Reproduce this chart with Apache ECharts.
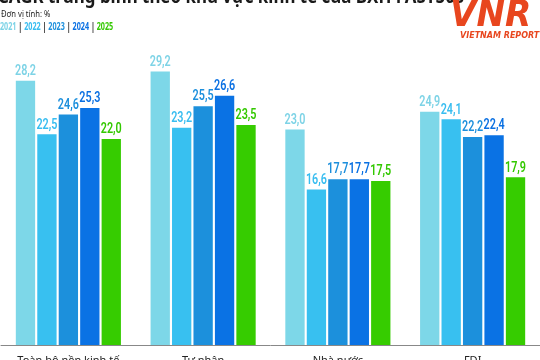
<!DOCTYPE html>
<html><head><meta charset="utf-8">
<script src="https://cdn.jsdelivr.net/npm/echarts@6/dist/echarts.min.js"></script>
<style>html,body{margin:0;padding:0;background:#fff}#c{width:540px;height:360px}</style>
</head><body><div id="c"></div>
<script>
const categories = ['Toàn bộ nền kinh tế', 'Tư nhân', 'Nhà nước', 'FDI'];
const years = ['2021', '2022', '2023', '2024', '2025'];
const v2021 = [28.2, 29.2, 23.0, 24.9];
const v2022 = [22.5, 23.2, 16.6, 24.1];
const v2023 = [24.6, 25.5, 17.7, 22.2];
const v2024 = [25.3, 26.6, 17.7, 22.4];
const v2025 = [22.0, 23.5, 17.5, 17.9];
const seriesValues = [v2021, v2022, v2023, v2024, v2025];
const colors = ['#7dd7e8', '#38c0f0', '#1c90dc', '#0a72e4', '#36cc00'];
const labelColors = ['#7dd3e6', '#38bdf0', '#1c8fdc', '#0a70e2', '#33c800'];

const CAT_GAP = 0.22, BAR_GAP = 0.11, N = seriesValues.length;

const chart = echarts.init(document.getElementById('c'));
const legendRich = {sep: {fill: '#222', fontWeight: 'bold', fontSize: 10, fontFamily: 'Noto Sans'}};
years.forEach((y, i) => { legendRich['y' + i] = {fill: labelColors[i], fontWeight: 'bold', fontSize: 10, fontFamily: 'Noto Sans'}; });
const legendText = years.map((y, i) => '{y' + i + '|' + y + '}').join('{sep| | }');

const barSeries = seriesValues.map((vals, i) => ({
  type: 'bar', name: years[i], data: vals,
  barGap: (BAR_GAP * 100) + '%', barCategoryGap: (CAT_GAP * 100) + '%',
  itemStyle: {color: colors[i]}
}));
const labelSeries = seriesValues.map((vals, i) => ({
  type: 'custom', name: 'lbl' + years[i], silent: true, z: 5,
  data: vals.map((v, c) => [c, v]),
  renderItem: (params, api) => {
    const pt = api.coord([api.value(0), api.value(1)]);
    const band = api.size([1, 0])[0];
    const groupW = band * (1 - CAT_GAP);
    const barW = groupW / (N + (N - 1) * BAR_GAP);
    const x = pt[0] - groupW / 2 + i * barW * (1 + BAR_GAP) + barW / 2;
    return {
      type: 'text', x: x, y: pt[1] - 2, scaleX: 0.72,
      style: {
        text: api.value(1).toFixed(1).replace('.', ','),
        fill: labelColors[i], font: '600 15px "Roboto"',
        align: 'center', verticalAlign: 'bottom'
      }
    };
  }
}));

chart.setOption({
  animation: false,
  grid: {left: 1, right: 0, top: 64, bottom: 15, containLabel: false, outerBoundsMode: 'none'},
  xAxis: {
    type: 'category', data: categories,
    axisLine: {lineStyle: {color: '#888', width: 1}},
    axisTick: {show: false},
    axisLabel: {color: '#222', fontSize: 11, fontFamily: 'Noto Sans', margin: 10}
  },
  yAxis: {type: 'value', min: 0, max: 30, show: false, splitLine: {show: false}},
  series: barSeries.concat(labelSeries),
  graphic: [
    {type: 'text', left: -2, top: -12, scaleX: 0.89, style: {text: 'CAGR trung bình theo khu vực kinh tế của BXH FAST500', fill: '#1a1a1a', font: 'bold 19px "Noto Sans"'}},
    {type: 'text', left: 1, top: 10, scaleX: 0.85, style: {text: 'Đơn vị tính: %', fill: '#222', font: '9px "Noto Sans"'}},
    {type: 'text', left: 0, top: 22, scaleX: 0.72, style: {text: legendText, rich: legendRich}},
    {type: 'text', left: 450, top: -3, scaleX: 0.9, style: {text: 'VNR', fill: '#e8461e', font: 'italic bold 38px "DejaVu Sans"'}},
    {type: 'text', left: 460, top: 32, style: {text: 'VIETNAM REPORT', fill: '#e8461e', font: 'italic bold 8px "DejaVu Sans"'}}
  ]
});
</script></body></html>
